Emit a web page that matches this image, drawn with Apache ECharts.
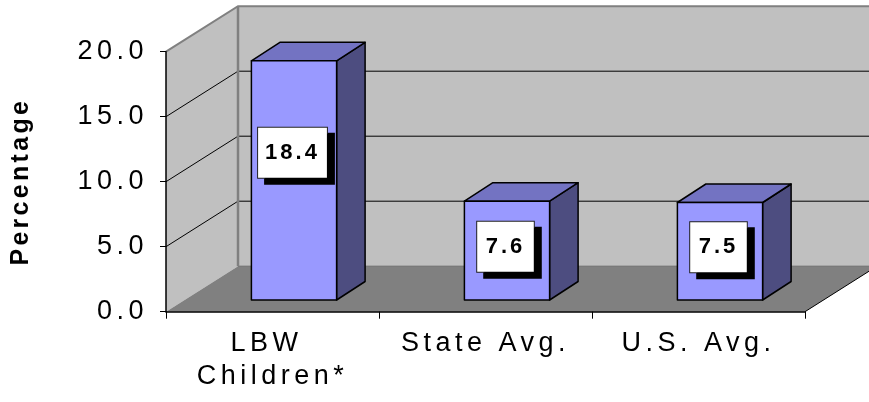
<!DOCTYPE html>
<html><head><meta charset="utf-8">
<script src="https://cdn.jsdelivr.net/npm/echarts@6/dist/echarts.min.js"></script>
<style>html,body{margin:0;padding:0;background:#fff}#c{width:869px;height:402px}</style>
</head><body><div id="c"></div>
<script>
const categories = ['LBW Children*', 'State Avg.', 'U.S. Avg.'];
const values = [18.4, 7.6, 7.5];
const yTicks = [0, 5, 10, 15, 20];

// Excel-style spaced lettering
(function(){
  const proto = CanvasRenderingContext2D.prototype;
  if (!('letterSpacing' in proto)) return;
  const orig = proto.fillText;
  proto.fillText = function(t, x, y, m){
    const f = this.font || '';
    const bold = /bold|700/.test(f);
    const mm = f.match(/(\d+(?:\.\d+)?)px/);
    const size = mm ? parseFloat(mm[1]) : 12;
    this.letterSpacing = bold ? (size >= 24 ? '3.3px' : '3px') : '4.5px';
    const r = (m === undefined) ? orig.call(this, t, x, y) : orig.call(this, t, x, y, m);
    this.letterSpacing = '0px';
    return r;
  };
})();

const DEPTH = [72, -45.5];
const BAR_OFF = [21.5, -11.7];
const BAR_DEPTH = [28.5, -18.5];
const FONT = '"Liberation Sans", Arial, sans-serif';

function renderWalls(params, api){
  const cw = api.size([1, 0])[0];
  const c0 = api.coord([0, 0]);
  const y0 = c0[1];
  const yTop = api.coord([0, yTicks[yTicks.length - 1]])[1];
  const xL = c0[0] - cw / 2;
  const xR = api.coord([categories.length - 1, 0])[0] + cw / 2;
  const dx = DEPTH[0], dy = DEPTH[1];
  const ch = [];
  ch.push({type: 'polygon', shape: {points: [[xL + dx, yTop + dy], [xR + dx + 20, yTop + dy], [xR + dx + 20, y0 + dy], [xL + dx, y0 + dy]]}, style: {fill: '#C0C0C0'}});
  ch.push({type: 'polygon', shape: {points: [[xL, y0], [xL, yTop], [xL + dx, yTop + dy], [xL + dx, y0 + dy]]}, style: {fill: '#C0C0C0'}});
  ch.push({type: 'polygon', shape: {points: [[xL, y0], [xR, y0], [xR + dx, y0 + dy], [xL + dx, y0 + dy]]}, style: {fill: '#808080'}});
  yTicks.slice(1, -1).forEach(function(v){
    const y = api.coord([0, v])[1];
    ch.push({type: 'polyline', shape: {points: [[xL, y], [xL + dx, y + dy], [xR + dx + 20, y + dy]]}, style: {stroke: '#000', lineWidth: 1, fill: null}});
  });
  ch.push({type: 'line', shape: {x1: xL + dx, y1: y0 + dy, x2: xR + dx + 20, y2: y0 + dy}, style: {stroke: '#6A6A6A', lineWidth: 1}});
  ch.push({type: 'polyline', shape: {points: [[xL, yTop], [xL + dx, yTop + dy], [xR + dx + 20, yTop + dy]]}, style: {stroke: '#808080', lineWidth: 2, fill: null}});
  ch.push({type: 'line', shape: {x1: xL + dx, y1: yTop + dy, x2: xL + dx, y2: y0 + dy}, style: {stroke: '#808080', lineWidth: 2.5}});
  ch.push({type: 'line', shape: {x1: xR, y1: y0, x2: xR + dx, y2: y0 + dy}, style: {stroke: '#000', lineWidth: 1}});
  return {type: 'group', children: ch};
}

function renderBar(params, api){
  const i = api.value(0), v = api.value(1);
  const cw = api.size([1, 0])[0];
  const base = api.coord([i, 0]);
  const top = api.coord([i, v]);
  const w = cw * 0.4;
  const cx = base[0] + BAR_OFF[0];
  const xl = cx - w / 2, xr = cx + w / 2;
  const yb = base[1] + BAR_OFF[1], yt = top[1] + BAR_OFF[1];
  const bx = BAR_DEPTH[0], by = BAR_DEPTH[1];
  const h = yb - yt;
  const st = {stroke: '#000', lineWidth: 1.5, lineJoin: 'round'};
  return {type: 'group', children: [
    {type: 'polygon', shape: {points: [[xr, yt], [xr + bx, yt + by], [xr + bx, yb + by], [xr, yb]]}, style: Object.assign({fill: '#4D4D80'}, st)},
    {type: 'polygon', shape: {points: [[xl, yt], [xl + bx, yt + by], [xr + bx, yt + by], [xr, yt]]}, style: Object.assign({fill: '#7373C2'}, st)},
    {type: 'rect', shape: {x: xl, y: yt, width: w, height: h}, style: Object.assign({fill: '#9999FF'}, st)},
    {type: 'text', x: cx - 1.5, y: yt + Math.min(h * 0.46, 92), z2: 10, style: {
      text: v.toFixed(1), fill: '#000', fontSize: 22, fontWeight: 'bold', fontFamily: FONT,
      align: 'center', verticalAlign: 'middle', lineHeight: 24,
      backgroundColor: '#fff', borderColor: '#222', borderWidth: 1, padding: [13, 13],
      shadowColor: '#000', shadowOffsetX: 7, shadowOffsetY: 6, shadowBlur: 0
    }}
  ]};
}

const chart = echarts.init(document.getElementById('c'), null, {renderer: 'canvas'});
chart.setOption({
  animation: false,
  backgroundColor: '#fff',
  grid: {left: 166, right: 64, top: 51.7, bottom: 90.3},
  xAxis: {
    type: 'category', data: categories, z: 10,
    axisLine: {lineStyle: {color: '#000', width: 1.5}},
    axisTick: {show: true, length: 7, lineStyle: {color: '#000', width: 1}},
    axisLabel: {interval: 0, margin: 15, fontSize: 27, fontFamily: FONT, color: '#000', lineHeight: 33, width: 150, overflow: 'break'}
  },
  yAxis: {
    type: 'value', min: 0, max: yTicks[yTicks.length - 1], interval: yTicks[1] - yTicks[0], z: 10,
    axisLine: {show: true, lineStyle: {color: '#000', width: 1.5}},
    axisTick: {show: true, length: 6, lineStyle: {color: '#000', width: 1}},
    splitLine: {show: false},
    axisLabel: {formatter: function(v){ return v.toFixed(1); }, margin: 18, fontSize: 27, fontFamily: FONT, color: '#000'},
    name: 'Percentage', nameLocation: 'middle', nameGap: 132,
    nameTextStyle: {fontSize: 25, fontWeight: 'bold', fontFamily: FONT, color: '#000'}
  },
  series: [
    {type: 'custom', z: 1, silent: true, renderItem: renderWalls, data: [[0, 0]], encode: {x: 0, y: 1}, clip: false},
    {type: 'custom', z: 2, renderItem: renderBar, data: values.map(function(v, i){ return [i, v]; }), encode: {x: 0, y: 1}, clip: false}
  ]
});
</script>
</body></html>
